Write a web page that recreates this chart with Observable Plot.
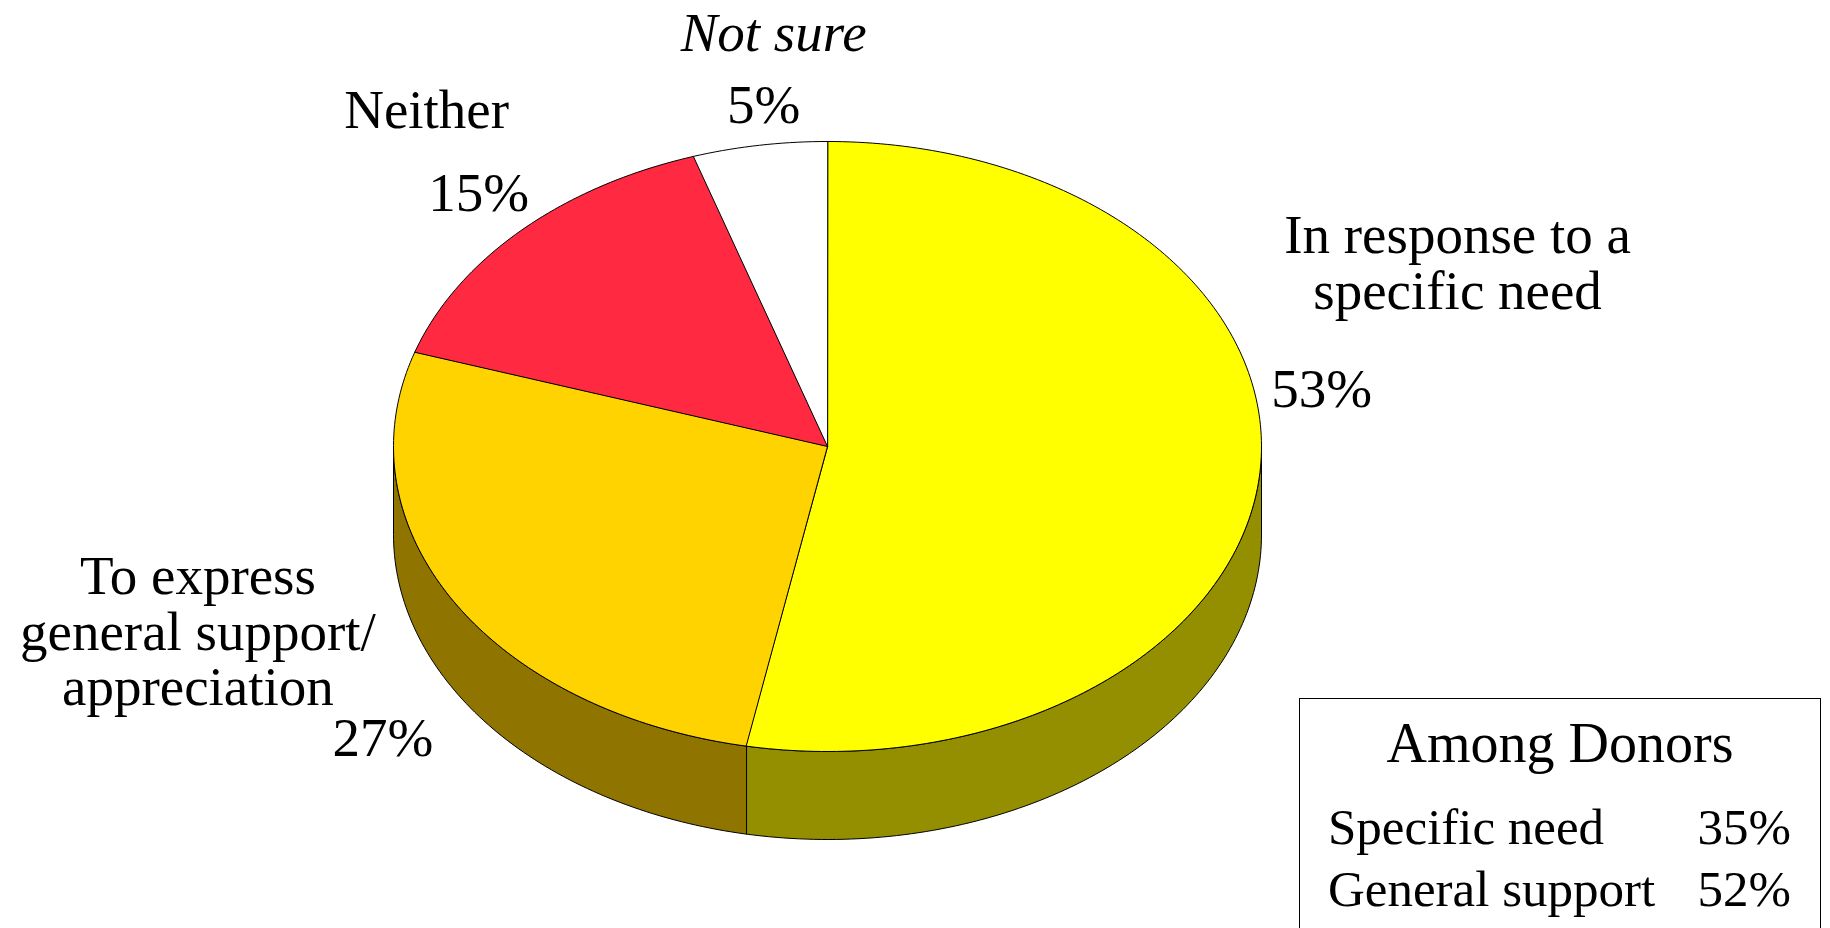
<!DOCTYPE html>
<html><head><meta charset="utf-8">
<script src="https://cdn.jsdelivr.net/npm/d3@7"></script>
<script src="https://cdn.jsdelivr.net/npm/@observablehq/plot@0.6"></script>
<style>
body{margin:0;background:#fff;}
#wrap{position:relative;width:1830px;height:928px;overflow:hidden;font-family:"Liberation Serif","Times New Roman",serif;color:#000;}
#wrap svg{position:absolute;left:0;top:0;}
#legend{position:absolute;left:1299px;top:698px;width:522px;height:260px;border:1.5px solid #000;box-sizing:border-box;background:#fff;}
#legend .t{position:absolute;left:0;right:0;top:16px;text-align:center;font-size:56px;line-height:1;}
#legend .row{position:absolute;left:28px;right:29px;font-size:51px;line-height:1;display:flex;justify-content:space-between;}
</style></head><body><div id="wrap"></div>
<script>
const categories = ["In response to a specific need","To express general support/appreciation","Neither","Not sure"];
const nameLines = [["In response to a","specific need"],["To express","general support/","appreciation"],["Neither"],["Not sure"]];
const shares = [53,27,15,5];
const topColors = ["#FFFF00","#FFD300","#FF2A42","#FFFFFF"];
const sideColors = ["#948F00","#8F7500","#8F1A28","#8F8F8F"];
const legendTitle = "Among Donors";
const donorCategories = ["Specific need","General support"];
const donorShares = [35,52];

// label styling (offsets in px from the slice's mid-angle rim point)
const pctOffsets = [[62,-86],[-71,137],[-42,-37],[4,-40]];
const nameOffsets = [[198,-212],[-256,30],[-94,-121],[14,-112]];
const nameLineHeight = 1.01;
const nameItalic = [false,false,false,true];

const depth = 0.2885;   // pie thickness in y-domain units
const step = Math.PI/180;

const arcs = d3.pie().sort(null).value(d => d)(shares);

function arcPts(a0, a1, off) {
  const n = Math.max(2, Math.ceil((a1 - a0) / step));
  return d3.range(n + 1).map(k => {
    const t = a0 + (a1 - a0) * k / n;
    return {x: Math.sin(t), y: -Math.cos(t) + off};
  });
}

const marks = [];
// sides (front half only)
arcs.forEach((a, i) => {
  const s = Math.max(a.startAngle, Math.PI/2), e = Math.min(a.endAngle, 3*Math.PI/2);
  if (e <= s) return;
  const pts = arcPts(s, e, 0).concat(arcPts(s, e, depth).reverse());
  marks.push(Plot.line(pts, {x:"x", y:"y", fill: sideColors[i], stroke:"#000", strokeWidth:1, curve:"linear-closed"}));
});
// top faces
arcs.forEach((a, i) => {
  const pts = [{x:0,y:0}].concat(arcPts(a.startAngle, a.endAngle, 0));
  marks.push(Plot.line(pts, {x:"x", y:"y", fill: topColors[i], stroke:"#000", strokeWidth:1, strokeLinejoin:"round", curve:"linear-closed"}));
});
// labels
arcs.forEach((a, i) => {
  const m = (a.startAngle + a.endAngle) / 2;
  const anchor = [{x: Math.sin(m), y: -Math.cos(m), pct: shares[i] + "%", name: nameLines[i].join("\n")}];
  marks.push(Plot.text(anchor, {x:"x", y:"y", text:"pct", dx: pctOffsets[i][0], dy: pctOffsets[i][1],
    fontSize: 55, fontFamily: "Liberation Serif", fill: "#000"}));
  marks.push(Plot.text(anchor, {x:"x", y:"y", text:"name", dx: nameOffsets[i][0], dy: nameOffsets[i][1],
    fontSize: 55, fontFamily: "Liberation Serif", fill: "#000", lineHeight: nameLineHeight,
    fontStyle: nameItalic[i] ? "italic" : "normal"}));
});

const chart = Plot.plot({
  width: 1830, height: 928,
  marginTop: 0, marginRight: 0, marginBottom: 0, marginLeft: 0,
  x: {domain: [-1, 1], range: [393, 1261], axis: null},
  y: {domain: [-1, 1], range: [141, 751], axis: null},
  style: {background: "transparent", overflow: "visible"},
  marks
});
const wrap = document.getElementById("wrap");
wrap.appendChild(chart);

const legend = document.createElement("div");
legend.id = "legend";
const t = document.createElement("div");
t.className = "t"; t.textContent = legendTitle;
legend.appendChild(t);
donorCategories.forEach((c, i) => {
  const r = document.createElement("div");
  r.className = "row";
  r.style.top = (103 + i * 62) + "px";
  const a = document.createElement("span"); a.textContent = c;
  const b = document.createElement("span"); b.textContent = donorShares[i] + "%";
  r.appendChild(a); r.appendChild(b);
  legend.appendChild(r);
});
wrap.appendChild(legend);
</script>
</body></html>
